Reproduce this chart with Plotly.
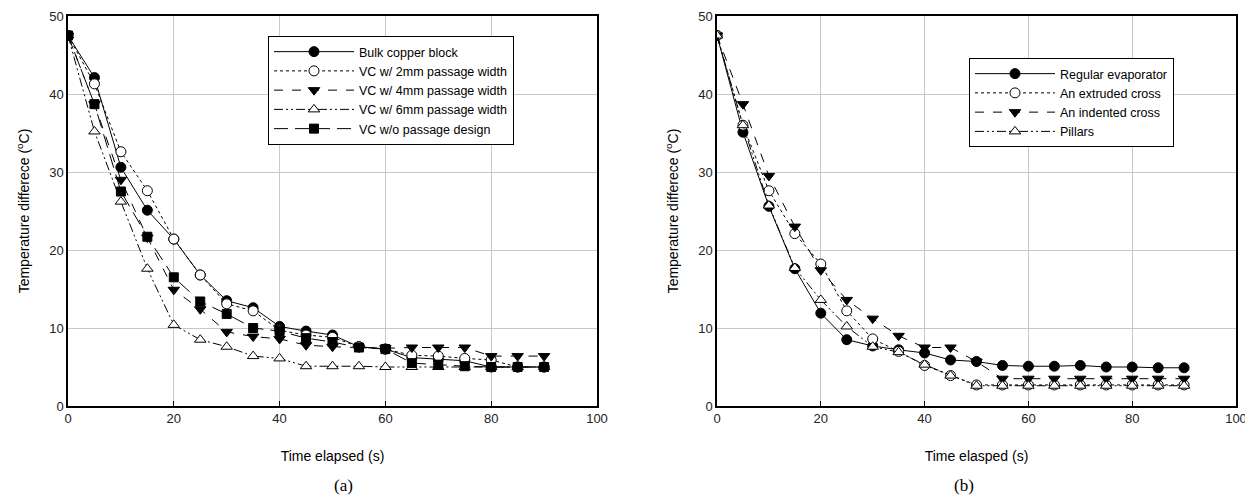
import plotly.graph_objects as go

# ---------------- data ----------------
time_s = [0, 5, 10, 15, 20, 25, 30, 35, 40, 45, 50, 55, 60, 65, 70, 75, 80, 85, 90]

# (a)
bulk_copper = [47.5, 42.1, 30.6, 25.1, 21.4, 16.8, 13.5, 12.6, 10.2, 9.6, 9.1, 7.6, 7.3, 6.2, 6.0, 5.8, 5.0, 5.0, 5.0]
vc_2mm = [47.5, 41.3, 32.6, 27.6, 21.4, 16.8, 13.1, 12.2, 9.7, 9.1, 8.8, 7.6, 7.3, 6.5, 6.4, 6.1, 5.9, 5.0, 5.0]
vc_4mm = [47.5, 38.7, 29.0, 21.6, 14.9, 12.4, 9.5, 8.9, 8.6, 7.8, 7.6, 7.5, 7.4, 7.5, 7.5, 7.5, 6.4, 6.4, 6.4]
vc_6mm = [47.5, 35.2, 26.2, 17.6, 10.4, 8.5, 7.6, 6.4, 6.1, 5.1, 5.1, 5.1, 5.0, 5.0, 5.0, 5.0, 5.0, 5.0, 5.0]
vc_wo = [47.5, 38.7, 27.5, 21.7, 16.5, 13.4, 11.8, 10.0, 9.6, 8.7, 8.2, 7.5, 7.3, 5.5, 5.3, 5.1, 5.0, 5.0, 5.0]

# (b)
regular = [47.5, 35.1, 25.6, 17.6, 11.9, 8.5, 7.7, 7.2, 6.8, 5.9, 5.7, 5.2, 5.1, 5.1, 5.2, 5.0, 5.0, 4.9, 4.9]
extruded = [47.5, 36.0, 27.6, 22.1, 18.2, 12.2, 8.6, 7.0, 5.2, 3.9, 2.7, 2.7, 2.7, 2.7, 2.7, 2.7, 2.7, 2.7, 2.7]
indented = [47.5, 38.7, 29.5, 23.0, 17.4, 13.6, 11.2, 9.0, 7.5, 7.5, 5.7, 3.5, 3.5, 3.5, 3.5, 3.5, 3.5, 3.5, 3.5]
pillars = [47.5, 36.0, 25.7, 17.7, 13.6, 10.2, 7.6, 6.9, 5.3, 3.9, 2.6, 2.6, 2.6, 2.6, 2.6, 2.6, 2.6, 2.6, 2.6]

names_a = ["Bulk copper block", "VC w/ 2mm passage width", "VC w/ 4mm passage width",
           "VC w/ 6mm passage width", "VC w/o passage design"]
names_b = ["Regular evaporator", "An extruded cross", "An indented cross", "Pillars"]

x_ticks = [0, 20, 40, 60, 80, 100]
y_ticks = [0, 10, 20, 30, 40, 50]

# ---------------- styles ----------------
DASH_DOT_DOT = "9px,3px,2px,3px,2px,3px"
LONG_DASH = "14px,7px"
styles = {
    "solid_fc": dict(dash="solid", symbol="circle", fill="black"),
    "dot_oc": dict(dash="dot", symbol="circle", fill="white"),
    "dash_td": dict(dash="dash", symbol="triangle-down", fill="black"),
    "dd_tu": dict(dash=DASH_DOT_DOT, symbol="triangle-up", fill="white"),
    "ld_sq": dict(dash=LONG_DASH, symbol="square", fill="black"),
}

fig = go.Figure()


def add(x, y, name, st, xa, ya, legend):
    s = styles[st]
    fig.add_trace(go.Scatter(
        x=x, y=y, name=name, mode="lines+markers",
        xaxis=xa, yaxis=ya, legend=legend,
        line=dict(color="black", width=1, dash=s["dash"]),
        marker=dict(symbol=s["symbol"], size=10 if s["symbol"] != "square" else 9,
                    color=s["fill"], line=dict(color="black", width=1)),
    ))


add(time_s, bulk_copper, names_a[0], "solid_fc", "x", "y", "legend")
add(time_s, vc_2mm, names_a[1], "dot_oc", "x", "y", "legend")
add(time_s, vc_4mm, names_a[2], "dash_td", "x", "y", "legend")
add(time_s, vc_6mm, names_a[3], "dd_tu", "x", "y", "legend")
add(time_s, vc_wo, names_a[4], "ld_sq", "x", "y", "legend")

add(time_s, regular, names_b[0], "solid_fc", "x2", "y2", "legend2")
add(time_s, extruded, names_b[1], "dot_oc", "x2", "y2", "legend2")
add(time_s, indented, names_b[2], "dash_td", "x2", "y2", "legend2")
add(time_s, pillars, names_b[3], "dd_tu", "x2", "y2", "legend2")

FONT = "Liberation Sans, Arial, sans-serif"
SERIF = "Liberation Serif, Times New Roman, serif"
OFF = 8  # page body margin
W, H = 1253 - OFF, 500 - OFF


def px(x):
    return (x - OFF) / W


def py(y):
    return 1 - (y - OFF) / H


def xaxis(domain, title, anchor):
    return dict(domain=domain, range=[0, 100], tickvals=x_ticks, anchor=anchor, automargin=False,
                showgrid=True, gridcolor="#c8c8c8", gridwidth=1,
                showline=True, linecolor="black", linewidth=1.5, mirror=True,
                ticks="inside", ticklen=5, tickcolor="black", zeroline=False,
                tickfont=dict(family=FONT, size=13, color="#222"),
                title=dict(text=title, font=dict(family=FONT, size=14, color="black"), standoff=26))


def yaxis(title, anchor):
    return dict(domain=[py(406), py(16)], range=[0, 50], tickvals=y_ticks, anchor=anchor,
                automargin=False,
                showgrid=True, gridcolor="#c8c8c8", gridwidth=1,
                showline=True, linecolor="black", linewidth=1.5, mirror=True,
                ticks="", zeroline=False,
                tickfont=dict(family=FONT, size=13, color="#222"),
                title=dict(text=title, font=dict(family=FONT, size=14, color="black"), standoff=16))


ytitle = "Temperature differece (<sup>o</sup>C)"

fig.update_layout(
    width=W, height=H,
    margin=dict(l=0, r=0, t=0, b=0),
    paper_bgcolor="white", plot_bgcolor="white",
    font=dict(family=FONT, size=12, color="black"),
    xaxis=xaxis([px(68), px(597)], "Time elapsed (s)", "y"),
    yaxis=yaxis(ytitle, "x"),
    xaxis2=xaxis([px(717), px(1236)], "Time elasped (s)", "y2"),
    yaxis2=yaxis(ytitle, "x2"),
    legend=dict(x=px(268), y=py(36), xanchor="left", yanchor="top",
                bgcolor="white", bordercolor="black", borderwidth=1,
                font=dict(family=FONT, size=12.5, color="black"),
                tracegroupgap=0, itemwidth=80),
    legend2=dict(x=px(969), y=py(58), xanchor="left", yanchor="top",
                 bgcolor="white", bordercolor="black", borderwidth=1,
                 font=dict(family=FONT, size=12.5, color="black"),
                 tracegroupgap=0, itemwidth=80),
    showlegend=True,
    annotations=[
        dict(text="(a)", x=px(332), y=py(485), xref="paper", yref="paper", yanchor="middle",
             showarrow=False, font=dict(family=SERIF, size=17, color="black")),
        dict(text="(b)", x=px(976), y=py(485), xref="paper", yref="paper", yanchor="middle",
             showarrow=False, font=dict(family=SERIF, size=17, color="black")),
    ],
)

fig.write_html("out.html")
